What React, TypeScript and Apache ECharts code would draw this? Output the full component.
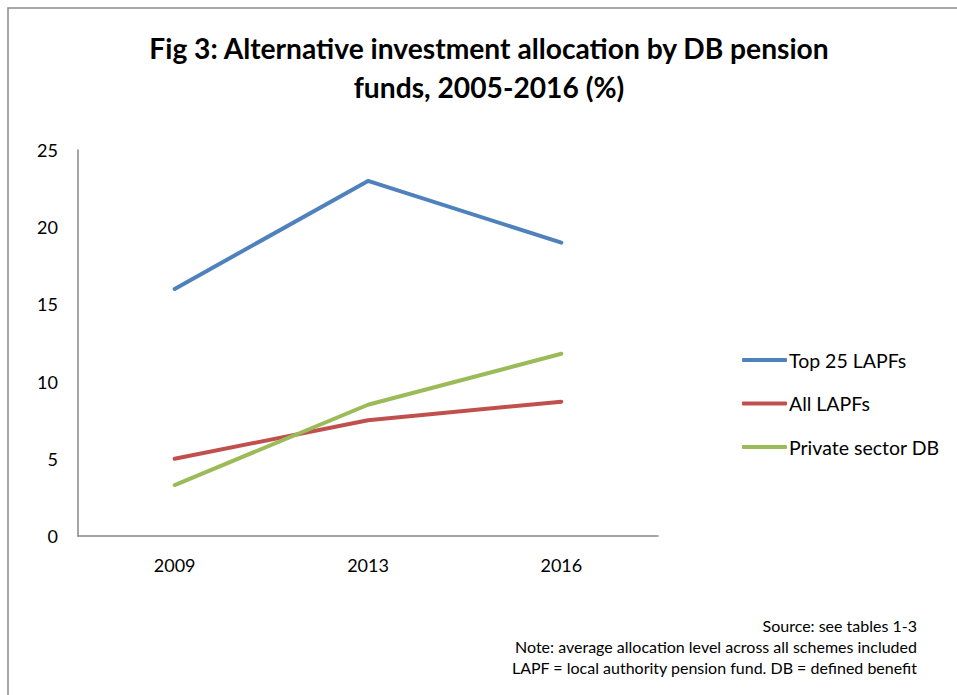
import React, { useEffect, useRef } from "react";
import * as echarts from "echarts";

const categories = ["2009", "2013", "2016"];
const top25 = [16.0, 23.0, 19.0];
const allLapfs = [5.0, 7.5, 8.7];
const privateDb = [3.3, 8.5, 11.8];
const seriesNames = ["Top 25 LAPFs", "All LAPFs", "Private sector DB"];
const colors = ["#4F81BD", "#C0504D", "#9BBB59"];
const titleLines = ["Fig 3: Alternative investment allocation by DB pension", "funds, 2005-2016 (%)"];
const noteLines = [
  "Source: see tables 1-3",
  "Note: average allocation level across all schemes included",
  "LAPF = local authority pension fund. DB = defined benefit",
];

const FONT = "Lato, 'Open Sans', sans-serif";

export default function App() {
  const ref = useRef<HTMLDivElement>(null);
  useEffect(() => {
    document.body.style.margin = "0";
    document.body.style.overflow = "hidden";
    const chart = echarts.init(ref.current!, undefined, { renderer: "svg" });
    const data = [top25, allLapfs, privateDb];
    chart.setOption({
      animation: false,
      backgroundColor: "#ffffff",
      textStyle: { fontFamily: FONT },
      grid: { left: 78, right: 299, top: 150, bottom: 159, containLabel: false },
      xAxis: {
        type: "category",
        data: categories,
        boundaryGap: true,
        axisLine: { lineStyle: { color: "#868686", width: 1.5 } },
        axisTick: { show: false },
        axisLabel: { color: "#000", fontSize: 18, fontFamily: FONT, margin: 20 },
      },
      yAxis: {
        type: "value",
        min: 0,
        max: 25,
        interval: 5,
        splitLine: { show: false },
        axisLine: { show: true, lineStyle: { color: "#868686", width: 1.5 } },
        axisTick: { show: false },
        axisLabel: { color: "#000", fontSize: 18, fontFamily: FONT, margin: 20 },
      },
      legend: {
        orient: "vertical",
        left: 737,
        top: 345,
        itemWidth: 45,
        itemHeight: 4,
        itemGap: 23.5,
        icon: "roundRect",
        textStyle: { fontSize: 19.5, color: "#000", fontFamily: FONT, lineHeight: 20, padding: [0, 0, 0, -3] },
        data: seriesNames,
      },
      series: seriesNames.map((name, i) => ({
        name,
        type: "line",
        data: data[i],
        symbol: "none",
        color: colors[i],
        lineStyle: { color: colors[i], width: 4, cap: "round", join: "round" },
        itemStyle: { color: colors[i] },
      })),
      graphic: [
        {
          type: "rect",
          shape: { x: 8, y: 8, width: 2000, height: 2000 },
          style: { fill: "none", stroke: "#8a8a8a", lineWidth: 1.5 },
          silent: true,
        },
        {
          type: "text",
          x: 489,
          y: 28,
          style: {
            text: titleLines.join("\n"),
            align: "center",
            verticalAlign: "top",
            font: `bold 28.2px ${FONT}`,
            lineHeight: 39,
            fill: "#000",
          },
        },
        {
          type: "text",
          x: 917,
          y: 614.5,
          style: {
            text: noteLines.join("\n"),
            align: "right",
            verticalAlign: "top",
            font: `16px ${FONT}`,
            lineHeight: 21,
            fill: "#000",
          },
        },
      ],
    });
    return () => chart.dispose();
  }, []);
  return <div ref={ref} style={{ position: "absolute", left: 0, top: 0, width: 957, height: 695 }} />;
}
